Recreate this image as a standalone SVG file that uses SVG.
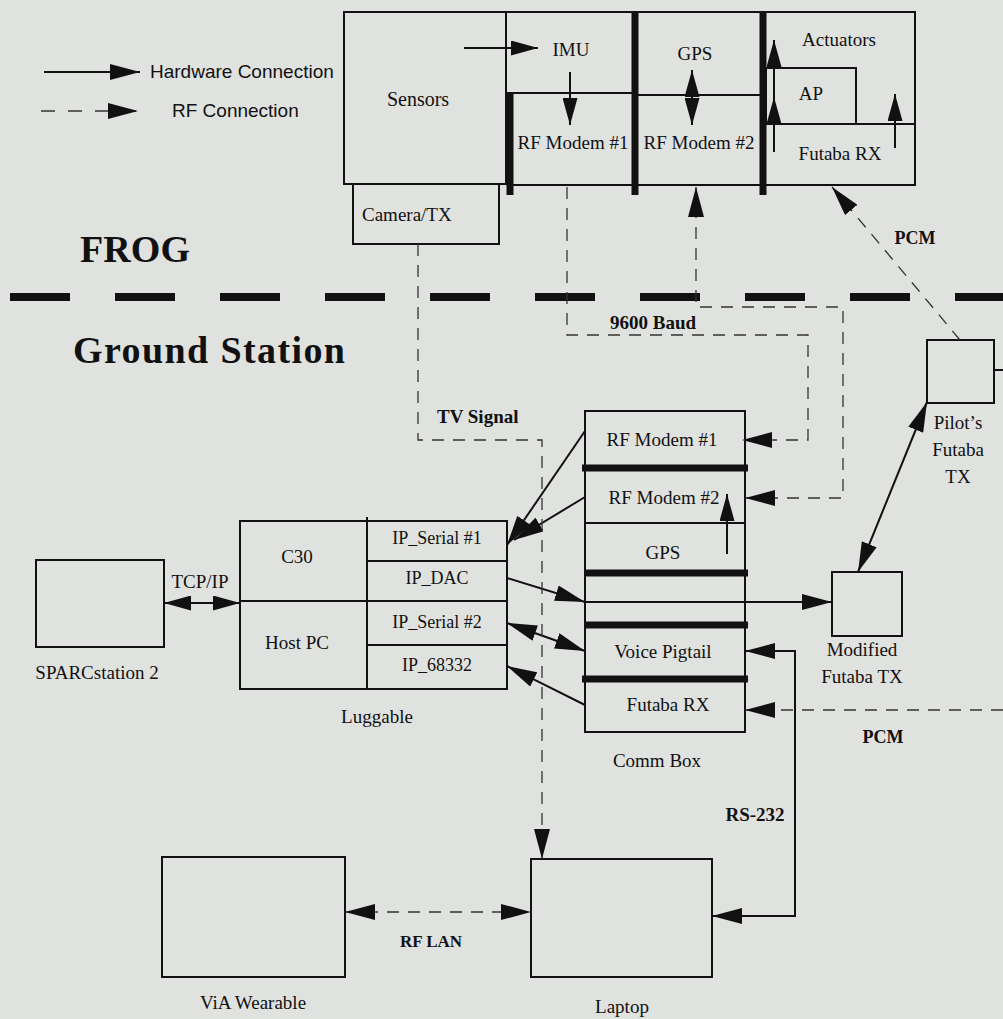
<svg xmlns="http://www.w3.org/2000/svg" width="1003" height="1019" viewBox="0 0 1003 1019">
<style>
.bg{fill:#e0e2df}
.box{fill:none;stroke:#111;stroke-width:2}
.bar{stroke:#111;stroke-width:7;fill:none}
.hw{stroke:#111;stroke-width:2;fill:none}
.rf{stroke:#333;stroke-width:1.3;stroke-dasharray:12 9;fill:none}
.sep{stroke:#111;stroke-width:8;stroke-dasharray:60 45;fill:none}
.t{font-family:"Liberation Serif","Times New Roman",serif;font-size:19px;fill:#111}
.ip{font-size:18px}
.c{text-anchor:middle}
.b{font-weight:bold}
.s{font-family:"Liberation Sans",Arial,sans-serif;font-size:19px;fill:#111}
</style>
<defs>
<marker id="ah" markerUnits="userSpaceOnUse" markerWidth="30" markerHeight="16" refX="30" refY="8" orient="auto-start-reverse">
<path d="M0,0 L30,8 L0,16 z" fill="#111" stroke="none"/>
</marker>
<marker id="as" markerUnits="userSpaceOnUse" markerWidth="27" markerHeight="15" refX="27" refY="7.5" orient="auto-start-reverse">
<path d="M0,0 L27,7.5 L0,15 z" fill="#111" stroke="none"/>
</marker>
</defs>
<rect class="bg" x="0" y="0" width="1003" height="1019"/>

<g id="legend">
<line class="hw" x1="44" y1="72" x2="140" y2="72" marker-end="url(#ah)"/>
<text class="s" x="150" y="78">Hardware Connection</text>
<line class="rf" x1="41" y1="111" x2="138" y2="111" style="stroke-dasharray:14 13" marker-end="url(#ah)"/>
<text class="s" x="172" y="117">RF Connection</text>
</g>

<g id="separator">
<line class="sep" x1="10" y1="297" x2="1003" y2="297"/>
<text class="t b" x="80" y="262" style="font-size:38px" textLength="110">FROG</text>
<text class="t b" x="73" y="363" style="font-size:38px" textLength="272">Ground Station</text>
</g>

<g id="frog-sensors">
<rect class="box" x="344" y="12" width="162" height="172"/>
<text class="t c" x="418" y="106" style="font-size:20px">Sensors</text>
</g>
<g id="frog-camera">
<rect class="box" x="353" y="184" width="146" height="60"/>
<text class="t" x="362" y="221">Camera/TX</text>
</g>
<g id="frog-imu">
<rect class="box" x="506" y="12" width="129" height="81"/>
<text class="t c" x="571" y="56">IMU</text>
</g>
<g id="frog-rfmodem1">
<rect class="box" x="510" y="93" width="125" height="92"/>
<text class="t c" x="573" y="149">RF Modem #1</text>
</g>
<g id="frog-gps">
<rect class="box" x="635" y="12" width="128" height="83"/>
<text class="t c" x="695" y="60">GPS</text>
</g>
<g id="frog-rfmodem2">
<rect class="box" x="635" y="95" width="128" height="90"/>
<text class="t c" x="699" y="149">RF Modem #2</text>
</g>
<g id="frog-actuators">
<rect class="box" x="763" y="12" width="152" height="112"/>
<text class="t c" x="839" y="46">Actuators</text>
</g>
<g id="frog-ap">
<rect class="box" x="766" y="68" width="90" height="56"/>
<text class="t c" x="811" y="100">AP</text>
</g>
<g id="frog-futabarx">
<rect class="box" x="763" y="124" width="152" height="61"/>
<text class="t c" x="840" y="160">Futaba RX</text>
</g>
<g id="frog-bars">
<line class="bar" x1="510" y1="93" x2="510" y2="195"/>
<line class="bar" x1="635" y1="12" x2="635" y2="195"/>
<line class="bar" x1="763" y1="12" x2="763" y2="195"/>
</g>

<g id="commbox">
<rect class="box" x="585" y="411" width="160" height="321"/>
<line class="hw" x1="585" y1="523" x2="745" y2="523"/>
<text class="t c" x="662" y="446">RF Modem #1</text>
<text class="t c" x="664" y="504">RF Modem #2</text>
<text class="t c" x="663" y="559">GPS</text>
<text class="t c" x="663" y="658">Voice Pigtail</text>
<text class="t c" x="668" y="711">Futaba RX</text>
<line class="bar" x1="582" y1="468" x2="748" y2="468"/>
<line class="bar" x1="584" y1="573" x2="748" y2="573"/>
<line class="bar" x1="585" y1="625" x2="748" y2="625"/>
<line class="bar" x1="582" y1="679" x2="748" y2="679"/>
<text class="t c" x="657" y="767">Comm Box</text>
</g>

<g id="luggable">
<rect class="box" x="240" y="521" width="267" height="168"/>
<line class="hw" x1="367" y1="517" x2="367" y2="689"/>
<line class="hw" x1="240" y1="601" x2="507" y2="601"/>
<line class="hw" x1="367" y1="561" x2="507" y2="561"/>
<line class="hw" x1="367" y1="645" x2="507" y2="645"/>
<text class="t c" x="297" y="563">C30</text>
<text class="t c" x="297" y="649">Host PC</text>
<text class="t ip c" x="437" y="544">IP_Serial #1</text>
<text class="t ip c" x="437" y="584">IP_DAC</text>
<text class="t ip c" x="437" y="628">IP_Serial #2</text>
<text class="t ip c" x="437" y="671">IP_68332</text>
<text class="t c" x="377" y="723">Luggable</text>
</g>

<g id="sparcstation">
<rect class="box" x="36" y="560" width="128" height="87"/>
<text class="t c" x="97" y="679">SPARCstation 2</text>
</g>

<g id="via-wearable">
<rect class="box" x="162" y="857" width="183" height="120"/>
<text class="t c" x="253" y="1009">ViA Wearable</text>
</g>

<g id="laptop">
<rect class="box" x="531" y="859" width="181" height="118"/>
<text class="t c" x="622" y="1013">Laptop</text>
</g>

<g id="pilots-futaba-tx">
<rect class="box" x="927" y="340" width="67" height="63"/>
<line class="hw" x1="994" y1="370" x2="1003" y2="370"/>
<text class="t c" x="958" y="429">Pilot’s</text>
<text class="t c" x="958" y="456">Futaba</text>
<text class="t c" x="958" y="483">TX</text>
</g>

<g id="modified-futaba-tx">
<rect class="box" x="832" y="572" width="70" height="64"/>
<text class="t c" x="862" y="656">Modified</text>
<text class="t c" x="862" y="683">Futaba TX</text>
</g>

<g id="connectors">
<line class="hw" x1="464" y1="48" x2="538" y2="48" marker-end="url(#as)"/>
<line class="hw" x1="570" y1="72" x2="570" y2="125" marker-end="url(#as)"/>
<line class="hw" x1="692" y1="97" x2="692" y2="70" marker-end="url(#as)"/>
<line class="hw" x1="692" y1="93" x2="692" y2="125" marker-end="url(#as)"/>
<line class="hw" x1="774" y1="152" x2="774" y2="40" marker-end="url(#as)"/>
<line class="hw" x1="774" y1="130" x2="774" y2="97" marker-end="url(#as)"/>
<line class="hw" x1="895" y1="148" x2="895" y2="94" marker-end="url(#as)"/>
<line class="hw" x1="727" y1="554" x2="727" y2="494" marker-end="url(#as)"/>
<line class="hw" x1="585" y1="431" x2="507" y2="545" marker-end="url(#ah)"/>
<line class="hw" x1="585" y1="497" x2="514" y2="540" marker-end="url(#ah)"/>
<line class="hw" x1="507" y1="578" x2="585" y2="602" marker-end="url(#ah)"/>
<line class="hw" x1="585" y1="602" x2="832" y2="602" marker-end="url(#ah)"/>
<line class="hw" x1="507" y1="623" x2="585" y2="651" marker-start="url(#ah)" marker-end="url(#ah)"/>
<line class="hw" x1="585" y1="705" x2="507" y2="666" marker-end="url(#ah)"/>
<line class="hw" x1="164" y1="603" x2="240" y2="603" marker-start="url(#as)" marker-end="url(#as)"/>
<line class="hw" x1="927" y1="402" x2="858" y2="572" marker-start="url(#ah)" marker-end="url(#ah)"/>
<polyline class="hw" points="745,651 795,651 795,916 712,916" marker-start="url(#ah)" marker-end="url(#ah)"/>
<polyline class="rf" points="418,244 418,440 542,440 542,859" marker-end="url(#ah)"/>
<polyline class="rf" points="567,187 567,335 808,335 808,440 742,440" marker-end="url(#ah)"/>
<polyline class="rf" points="745,498 843,498 843,307 696,307 696,187" marker-start="url(#ah)" marker-end="url(#ah)"/>
<line class="rf" x1="960" y1="340" x2="832" y2="187" marker-end="url(#ah)"/>
<line class="rf" x1="1003" y1="710" x2="745" y2="710" marker-end="url(#ah)"/>
<line class="rf" x1="345" y1="912" x2="531" y2="912" marker-start="url(#ah)" marker-end="url(#ah)"/>
</g>

<g id="labels">
<text class="t b" x="610" y="329">9600 Baud</text>
<text class="t b" x="437" y="423">TV Signal</text>
<text class="t b c" x="915" y="244" style="font-size:18px">PCM</text>
<text class="t b c" x="883" y="743" style="font-size:18px">PCM</text>
<text class="t b c" x="755" y="821">RS-232</text>
<text class="t b c" x="431" y="947" style="font-size:17px">RF LAN</text>
<text class="t c" x="200" y="588">TCP/IP</text>
</g>
</svg>
